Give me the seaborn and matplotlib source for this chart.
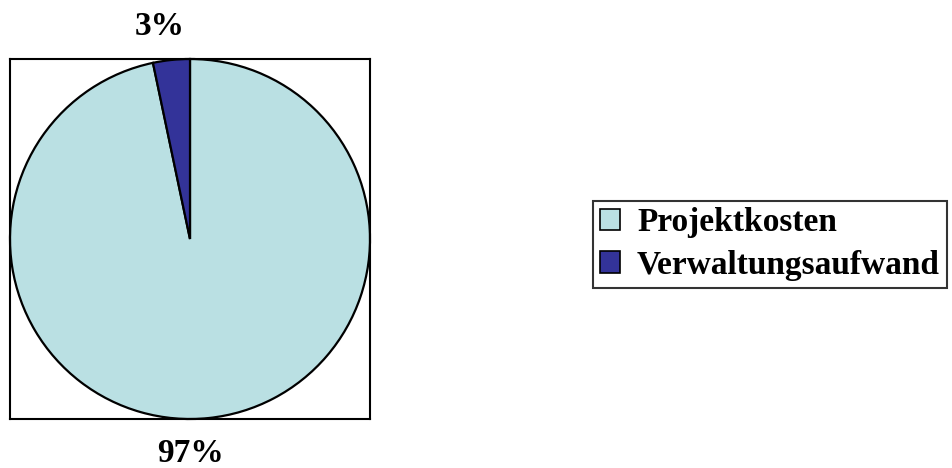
import matplotlib
matplotlib.use("Agg")
import matplotlib.pyplot as plt
import seaborn as sns

# data
categories = ["Projektkosten", "Verwaltungsaufwand"]
shares = [96.7, 3.3]
colors = ["#BAE0E3", "#333399"]

sns.set_style("white")
plt.rcParams["font.family"] = ["Liberation Serif", "DejaVu Serif"]
plt.rcParams["font.weight"] = "bold"
plt.rcParams["text.color"] = "black"

fig = plt.figure(figsize=(9.52, 4.68), dpi=100)
ax = fig.add_axes([10 / 952, 48 / 468, 360 / 952, 362 / 468])

wedges, _ = ax.pie(shares, colors=colors, startangle=90, counterclock=False,
                   radius=1.0, center=(0, 0), frame=True,
                   wedgeprops=dict(edgecolor="black", linewidth=1.6))
ax.set_xlim(-1, 1)
ax.set_ylim(-1, 1)
ax.set_xticks([])
ax.set_yticks([])
for s in ax.spines.values():
    s.set_visible(True)
    s.set_color("black")
    s.set_linewidth(1.5)

# percentage labels outside the frame
ax.text(-0.17, 1.18, f"{round(shares[1])}%", ha="center", va="center",
        fontsize=24, fontweight="bold", color="black", clip_on=False)
ax.text(0.0, -1.19, f"{round(shares[0])}%", ha="center", va="center",
        fontsize=24, fontweight="bold", color="black", clip_on=False)

leg = fig.legend(wedges, categories, loc="center left",
                 bbox_to_anchor=(593 / 952, 1 - 244 / 468),
                 frameon=True, fancybox=False, shadow=False,
                 prop=dict(family="Liberation Serif", weight="bold", size=24),
                 handlelength=0.62, handleheight=0.62, handletextpad=0.5,
                 labelspacing=0.35, borderpad=0.2, borderaxespad=0)
leg.get_frame().set_edgecolor("black")
leg.get_frame().set_linewidth(1.5)
for t in leg.get_texts():
    t.set_color("black")
for h in leg.legend_handles:
    h.set_linewidth(1.2)

fig.savefig("out.png", dpi=100)
